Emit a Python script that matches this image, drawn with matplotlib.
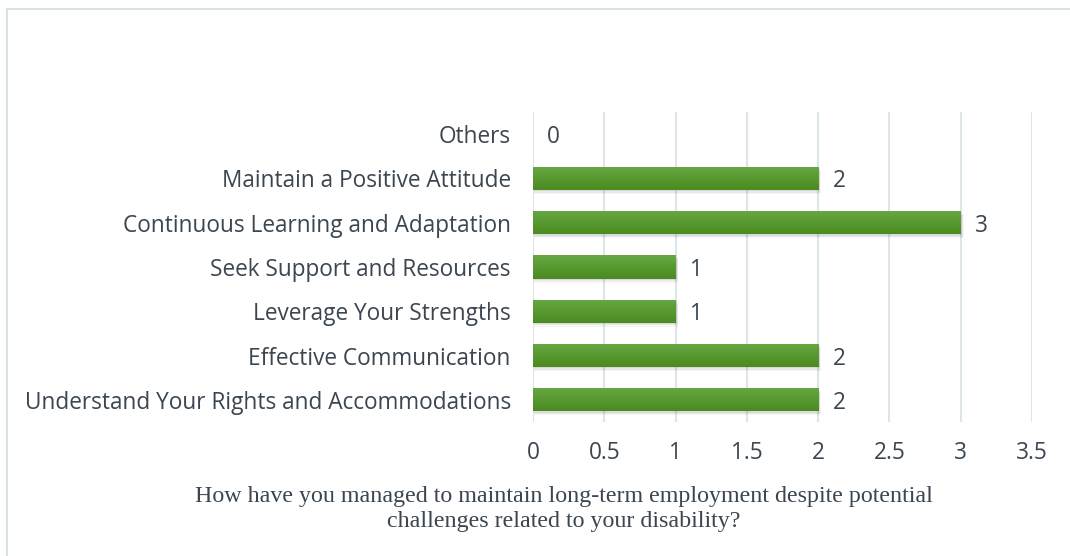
import numpy as np
import matplotlib
matplotlib.use("Agg")
import matplotlib.pyplot as plt
from matplotlib.patches import Rectangle
from matplotlib.colors import LinearSegmentedColormap

categorias = [
    "Understand Your Rights and Accommodations",
    "Effective Communication",
    "Leverage Your Strengths",
    "Seek Support and Resources",
    "Continuous Learning and Adaptation",
    "Maintain a Positive Attitude",
    "Others",
]
valores = [2, 2, 1, 1, 3, 2, 0]
ticks_x = [0, 0.5, 1, 1.5, 2, 2.5, 3, 3.5]
titulo = ("How have you managed to maintain long-term employment despite potential\n"
          "challenges related to your disability?")

COR_TEXTO = "#3b4650"
COR_GRADE = "#dce5e8"
COR_BORDA = "#d8e3e3"
FONTE = "Open Sans"
TAM = 16.3

fig = plt.figure(figsize=(10.70, 5.56), dpi=100)
ax = fig.add_axes([533 / 1070, 1 - 422 / 556, (1032 - 533) / 1070, (422 - 112) / 556])

# moldura cortada (só topo e esquerda visíveis)
fig.add_artist(plt.Line2D([7 / 1070, 7 / 1070], [0, 1 - 9 / 556], transform=fig.transFigure,
                          color=COR_BORDA, lw=1.5))
fig.add_artist(plt.Line2D([7 / 1070, 1], [1 - 9 / 556, 1 - 9 / 556], transform=fig.transFigure,
                          color=COR_BORDA, lw=1.5))

y = np.arange(len(categorias))
altura = 0.52
cmap = LinearSegmentedColormap.from_list("verde", ["#4a8a1f", "#66a843"])
grad = np.linspace(0, 1, 64).reshape(-1, 1)

for yi, v in zip(y, valores):
    if v > 0:
        # sombra suave
        for k, a in enumerate([0.06, 0.05, 0.04]):
            ax.add_patch(Rectangle((0.01, yi - altura / 2 - 0.03 * (k + 1)), v + 0.005 * k, altura,
                                   color="#000000", alpha=a, lw=0, zorder=2))
        barra = Rectangle((0, yi - altura / 2), v, altura, color="#589a30", lw=0, zorder=3)
        ax.add_patch(barra)
        im = ax.imshow(grad, cmap=cmap, aspect="auto", origin="lower",
                       extent=(0, v, yi - altura / 2, yi + altura / 2), zorder=4)
        im.set_clip_path(barra)
    ax.text(v + 0.1, yi, str(v), va="center_baseline", ha="left", fontsize=TAM,
            color=COR_TEXTO, family=FONTE)

ax.set_xlim(0, 3.5)
ax.set_ylim(-0.5, len(categorias) - 0.5)
ax.set_xticks(ticks_x)
ax.set_xticklabels([f"{t:g}" for t in ticks_x], fontsize=TAM, color=COR_TEXTO, family=FONTE)
ax.set_yticks(y)
ax.set_yticklabels(categorias, fontsize=TAM, color=COR_TEXTO, family=FONTE)
ax.tick_params(axis="both", length=0)
ax.tick_params(axis="y", pad=16)
ax.tick_params(axis="x", pad=14)
ax.grid(True, axis="x", color=COR_GRADE, lw=1.5, zorder=0)
ax.set_axisbelow(True)
for s in ax.spines.values():
    s.set_visible(False)

fig.text(564 / 1070, 1 - 509 / 556, titulo, ha="center", va="center", fontsize=17.3,
         color=COR_TEXTO, family="Liberation Serif", linespacing=1.2)

fig.savefig("out.png", dpi=100)
